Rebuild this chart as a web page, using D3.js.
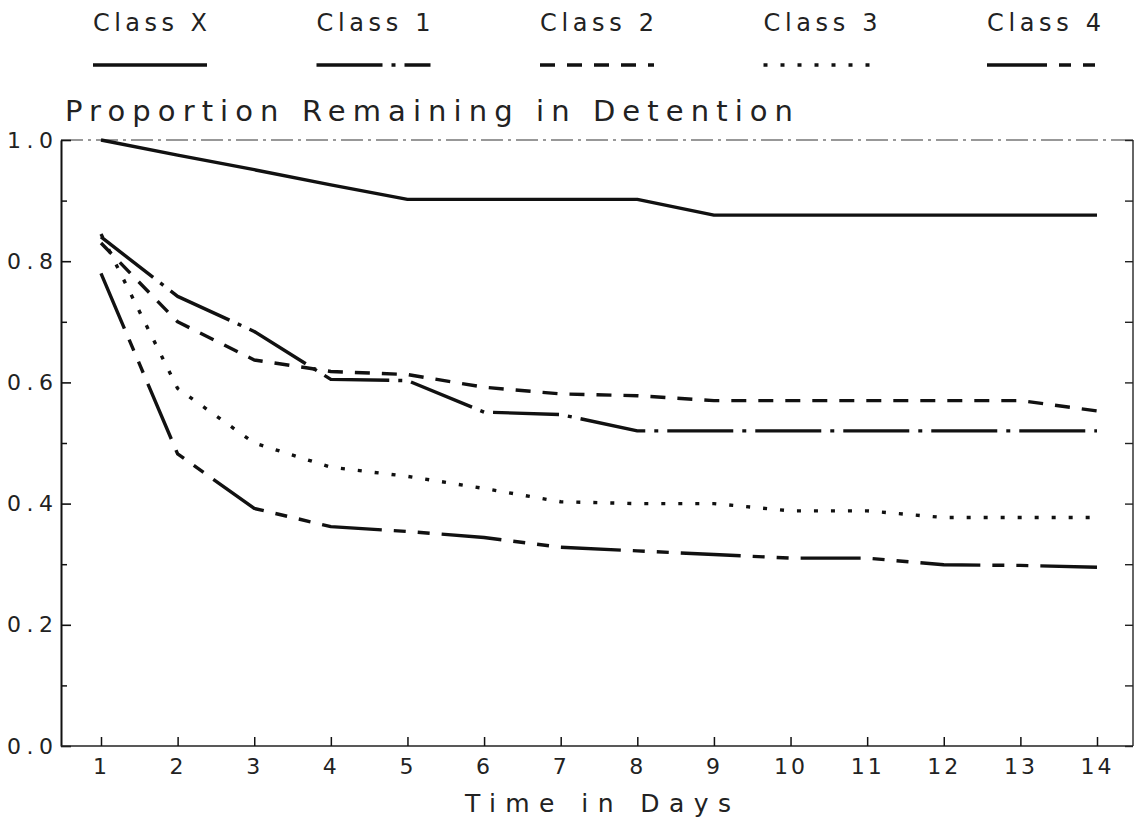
<!DOCTYPE html>
<html>
<head>
<meta charset="utf-8">
<script src="https://cdn.jsdelivr.net/npm/d3@7"></script>
<style>
  body { margin: 0; background: #fff; }
  text { font-family: "DejaVu Sans ExtraLight", "DejaVu Sans", sans-serif; fill: #222; }
</style>
</head>
<body>
<script>
// values
const days = [1, 2, 3, 4, 5, 6, 7, 8, 9, 10, 11, 12, 13, 14];
const classX = [1.0, 0.975, 0.951, 0.926, 0.902, 0.902, 0.902, 0.902, 0.876, 0.876, 0.876, 0.876, 0.876, 0.876];
const class1 = [0.84, 0.742, 0.684, 0.605, 0.603, 0.551, 0.547, 0.52, 0.52, 0.52, 0.52, 0.52, 0.52, 0.52];
const class2 = [0.83, 0.70, 0.637, 0.618, 0.613, 0.592, 0.581, 0.578, 0.57, 0.57, 0.57, 0.57, 0.57, 0.553];
const class3 = [0.845, 0.59, 0.50, 0.46, 0.445, 0.425, 0.403, 0.40, 0.40, 0.388, 0.388, 0.377, 0.377, 0.377];
const class4 = [0.78, 0.482, 0.392, 0.362, 0.354, 0.344, 0.328, 0.322, 0.316, 0.31, 0.31, 0.299, 0.298, 0.295];
const seriesNames = ["Class X", "Class 1", "Class 2", "Class 3", "Class 4"];
const yMajorTicks = [0, 0.2, 0.4, 0.6, 0.8, 1.0];
const yMinorTicks = [0.1, 0.3, 0.5, 0.7, 0.9];

const seriesValues = [classX, class1, class2, class3, class4];
// line styles: solid, dash-dot, dashed, dotted, long-short-short
const dashes = [null, "66 9 4 9", "15 12", "4 13", "60 12 12 12 12 12"];

var width = 1136, height = 822;
var frame = { left: 61, right: 1133, top: 140, bottom: 746 };
var textFont = "\"DejaVu Sans ExtraLight\", \"DejaVu Sans\", sans-serif";

var svg = d3.select("body").append("svg")
    .attr("width", width)
    .attr("height", height);

var x = d3.scaleLinear().domain([1, 14]).range([101, 1097]);
var y = d3.scaleLinear().domain([0, 1]).range([frame.bottom, frame.top]);

// frame: faint top and right edges
svg.append("line")
    .attr("x1", frame.left).attr("x2", frame.right)
    .attr("y1", frame.top).attr("y2", frame.top)
    .attr("stroke", "#777").attr("stroke-width", 1.4)
    .attr("stroke-dasharray", "22 5 3 5");

svg.append("line")
    .attr("x1", frame.right).attr("x2", frame.right)
    .attr("y1", frame.top).attr("y2", frame.bottom)
    .attr("stroke", "#333").attr("stroke-width", 1.5);

// right side ticks pointing inwards
svg.append("g")
    .attr("transform", "translate(" + frame.right + ",0)")
    .call(d3.axisRight(y).tickValues(yMajorTicks.concat(yMinorTicks)).tickSize(-8).tickSizeOuter(0).tickFormat(""))
    .call(g => g.select(".domain").remove())
    .call(g => g.selectAll(".tick line").attr("stroke", "#222").attr("stroke-width", 1.4));

// left axis: labelled major ticks and minor ticks, both inwards
svg.append("g")
    .attr("transform", "translate(" + frame.left + ",0)")
    .call(d3.axisLeft(y).tickValues(yMinorTicks).tickSize(-6).tickSizeOuter(0).tickFormat(""))
    .call(g => g.select(".domain").remove())
    .call(g => g.selectAll(".tick line").attr("stroke", "#111").attr("stroke-width", 1.5));

var yAxis = svg.append("g")
    .attr("transform", "translate(" + frame.left + ",0)")
    .call(d3.axisLeft(y).tickValues(yMajorTicks).tickSize(-10).tickSizeOuter(0)
        .tickPadding(8).tickFormat(d3.format(".1f")));

yAxis.select(".domain").attr("stroke", "#111").attr("stroke-width", 2);
yAxis.selectAll(".tick line").attr("stroke", "#111").attr("stroke-width", 1.6);
yAxis.selectAll(".tick text")
    .attr("font-size", "22px")
    .attr("fill", "#222")
    .attr("textLength", 46)
    .attr("lengthAdjust", "spacing")
    .style("font-family", textFont);

// bottom axis: line from the frame corner, ticks pointing up
svg.append("line")
    .attr("x1", frame.left).attr("x2", frame.right)
    .attr("y1", frame.bottom).attr("y2", frame.bottom)
    .attr("stroke", "#222").attr("stroke-width", 1.5);

var xAxis = svg.append("g")
    .attr("transform", "translate(0," + frame.bottom + ")")
    .call(d3.axisBottom(x).tickValues(days).tickSize(-9).tickSizeOuter(0).tickPadding(12).tickFormat(d3.format("d")));

xAxis.select(".domain").remove();
xAxis.selectAll(".tick line").attr("stroke", "#111").attr("stroke-width", 1.5);
xAxis.selectAll(".tick text")
    .attr("font-size", "22px")
    .attr("fill", "#222")
    .attr("letter-spacing", "3px")
    .style("font-family", textFont);

// axis titles
svg.append("text")
    .attr("x", 65)
    .attr("y", 121)
    .attr("font-size", "29px")
    .attr("textLength", 728)
    .attr("lengthAdjust", "spacing")
    .text("Proportion Remaining in Detention");

svg.append("text")
    .attr("x", 465)
    .attr("y", 812)
    .attr("font-size", "25px")
    .attr("textLength", 266)
    .attr("lengthAdjust", "spacing")
    .text("Time in Days");

// curves
var line = d3.line()
    .x(function (d, i) { return x(days[i]); })
    .y(function (d) { return y(d); });

svg.selectAll("path.series")
    .data(seriesValues)
    .enter()
    .append("path")
    .attr("class", "series")
    .attr("fill", "none")
    .attr("stroke", "#111")
    .attr("stroke-width", 3.4)
    .attr("stroke-linejoin", "round")
    .attr("stroke-dasharray", function (d, i) { return dashes[i]; })
    .attr("d", line);

// legend across the top
var legend = svg.selectAll("g.legend")
    .data(seriesNames)
    .enter()
    .append("g")
    .attr("class", "legend")
    .attr("transform", function (d, i) { return "translate(" + (93 + i * 223.5) + ",0)"; });

legend.append("text")
    .attr("x", 0)
    .attr("y", 31)
    .attr("font-size", "24px")
    .attr("textLength", 114)
    .attr("lengthAdjust", "spacing")
    .text(function (d) { return d; });

legend.append("line")
    .attr("x1", 0).attr("x2", 114)
    .attr("y1", 65).attr("y2", 65)
    .attr("stroke", "#111")
    .attr("stroke-width", 3.4)
    .attr("stroke-dasharray", function (d, i) { return dashes[i]; });
</script>
</body>
</html>
